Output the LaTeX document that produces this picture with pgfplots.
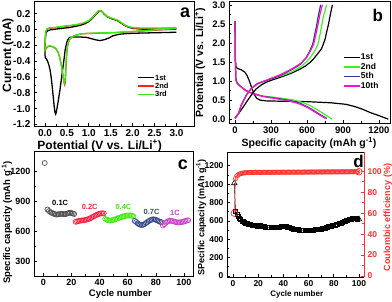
\documentclass[border=0pt]{standalone}
\usepackage{pgfplots}
\pgfplotsset{compat=1.18}
\usepackage{fontspec}
\setmainfont{Liberation Sans}
\definecolor{ared}{HTML}{FF2020}
\definecolor{agreen}{HTML}{33EE11}
\definecolor{bgreen}{HTML}{44EE22}
\definecolor{bblue}{HTML}{2A3A9A}
\definecolor{bpink}{HTML}{FF10C8}
\definecolor{cgray}{HTML}{505050}
\definecolor{cred}{HTML}{FF2244}
\definecolor{cgreen}{HTML}{44EE11}
\definecolor{cblue}{HTML}{3A4A8A}
\definecolor{cviolet}{HTML}{CC44CC}
\definecolor{dred}{HTML}{FF3030}
\newcommand{\fs}[1]{\bfseries\fontsize{#1}{#1}\selectfont}
\pgfplotsset{
  /pgf/number format/assume math mode=true,
  /pgf/number format/1000 sep={},
  base/.style={scale only axis,
    axis line style={line width=0.8pt},
    tick style={line width=0.6pt, black},
    major tick length=3pt, minor tick length=1.8pt,
    xtick pos=bottom, ytick pos=left,
    legend cell align=left},
}
\begin{document}
\begin{tikzpicture}
\useasboundingbox (0pt,0pt) rectangle (392pt,301pt);

% ---------------- panel a ----------------
\begin{axis}[base, at={(34pt,175pt)}, anchor=south west, width=160pt, height=125pt,
  xmin=-0.25, xmax=3.4, ymin=-1.22, ymax=0.36,
  xtick={0,0.5,1,1.5,2,2.5,3}, ytick={-1.2,-1,-0.8,-0.6,-0.4,-0.2,0,0.2},
  minor x tick num=1, minor y tick num=1,
  xticklabel style={/pgf/number format/.cd, fixed, fixed zerofill, precision=1},
  yticklabel style={/pgf/number format/.cd, fixed, fixed zerofill, precision=1},
  tick label style={font=\fs{10}},
  label style={font=\fs{12}},
  xlabel={Potential (V vs. Li/Li\textsuperscript{+})},
  ylabel={Current (mA)},
  xlabel style={at={(axis description cs:0.41,-0.158)}, anchor=center},
  ylabel style={at={(axis description cs:-0.1625,0.568)}, anchor=center},
  legend style={at={(0.644,0.416)}, anchor=north west, draw=none, fill=none,
    font=\fs{7.5}, row sep=1pt, inner sep=0pt,
    nodes={inner sep=0.6pt, text height=5.2pt, text depth=0.8pt}},
  legend image code/.code={\draw[#1] (0pt,0pt) -- (16pt,0pt);},
]
\addplot[black, line width=1.3pt] coordinates {
(3.0,-0.035) (2.6,-0.04) (2.2,-0.045) (1.9,-0.05) (1.7,-0.06) (1.55,-0.08) (1.45,-0.11) (1.35,-0.13) (1.25,-0.14) (1.15,-0.13) (1.05,-0.115) (0.95,-0.10) (0.8,-0.095) (0.65,-0.095) (0.56,-0.10) (0.52,-0.13) (0.49,-0.18) (0.46,-0.26) (0.43,-0.40) (0.40,-0.52) (0.37,-0.65) (0.34,-0.77) (0.31,-0.88) (0.28,-0.98) (0.26,-1.04) (0.245,-1.07) (0.23,-1.05) (0.21,-0.97) (0.18,-0.80) (0.15,-0.64) (0.12,-0.52) (0.09,-0.45) (0.06,-0.40) (0.03,-0.37) (0.01,-0.36) (0.0,-0.32) (0.005,-0.15) (0.02,-0.05) (0.05,-0.02) (0.12,-0.005) (0.25,0.005) (0.4,0.015) (0.55,0.025) (0.7,0.04) (0.82,0.055) (0.92,0.075) (1.0,0.10) (1.08,0.14) (1.16,0.19) (1.22,0.225) (1.26,0.235) (1.3,0.225) (1.36,0.19) (1.42,0.16) (1.5,0.14) (1.58,0.125) (1.66,0.11) (1.74,0.08) (1.82,0.05) (1.9,0.03) (2.0,0.015) (2.2,0.005) (2.5,0.0) (2.8,0.0) (3.0,0.005)
};
\addlegendentry{1st}
\addplot[ared, line width=1.3pt] coordinates {
(3.0,0.01) (2.6,-0.005) (2.2,-0.02) (1.9,-0.03) (1.6,-0.04) (1.3,-0.045) (1.0,-0.05) (0.85,-0.055) (0.72,-0.07) (0.63,-0.09) (0.57,-0.12) (0.53,-0.17) (0.505,-0.25) (0.49,-0.36) (0.48,-0.48) (0.47,-0.60) (0.46,-0.68) (0.45,-0.70) (0.44,-0.685) (0.42,-0.62) (0.40,-0.54) (0.37,-0.44) (0.34,-0.36) (0.30,-0.29) (0.25,-0.245) (0.20,-0.225) (0.15,-0.215) (0.10,-0.21) (0.06,-0.22) (0.03,-0.24) (0.0,-0.27) (0.005,-0.12) (0.02,-0.03) (0.05,0.005) (0.1,0.015) (0.2,0.02) (0.4,0.035) (0.6,0.05) (0.78,0.065) (0.9,0.085) (1.0,0.11) (1.08,0.15) (1.16,0.20) (1.22,0.235) (1.26,0.24) (1.3,0.23) (1.36,0.195) (1.42,0.165) (1.5,0.145) (1.58,0.13) (1.66,0.115) (1.74,0.085) (1.82,0.055) (1.9,0.035) (2.0,0.02) (2.2,0.012) (2.5,0.012) (2.8,0.015) (3.0,0.02)
};
\addlegendentry{2nd}
\addplot[agreen, line width=1.3pt] coordinates {
(3.0,0.015) (2.6,0.0) (2.2,-0.018) (1.9,-0.028) (1.6,-0.038) (1.3,-0.043) (1.0,-0.048) (0.85,-0.053) (0.72,-0.068) (0.63,-0.088) (0.57,-0.115) (0.53,-0.16) (0.505,-0.24) (0.49,-0.34) (0.475,-0.46) (0.465,-0.58) (0.455,-0.66) (0.445,-0.68) (0.435,-0.665) (0.415,-0.60) (0.395,-0.52) (0.365,-0.43) (0.335,-0.35) (0.30,-0.285) (0.25,-0.24) (0.20,-0.22) (0.15,-0.21) (0.10,-0.205) (0.06,-0.215) (0.03,-0.235) (0.0,-0.26) (0.005,-0.11) (0.02,-0.02) (0.05,0.01) (0.1,0.02) (0.2,0.025) (0.4,0.04) (0.6,0.053) (0.78,0.068) (0.9,0.088) (1.0,0.112) (1.08,0.15) (1.16,0.20) (1.22,0.232) (1.26,0.237) (1.3,0.228) (1.36,0.195) (1.42,0.165) (1.5,0.148) (1.58,0.133) (1.66,0.118) (1.74,0.088) (1.82,0.058) (1.9,0.038) (2.0,0.025) (2.2,0.018) (2.5,0.018) (2.8,0.02) (3.0,0.025)
};
\addlegendentry{3rd}
\node[font=\fs{18}] at (rel axis cs:0.944,0.904) {a};
\end{axis}

% ---------------- panel b ----------------
\begin{axis}[base, at={(229pt,178pt)}, anchor=south west, width=161pt, height=122pt,
  xmin=-50, xmax=1292, ymin=-0.1, ymax=3.1,
  xtick={0,300,600,900,1200}, ytick={0,0.5,1,1.5,2,2.5,3},
  minor x tick num=1, minor y tick num=1,
  yticklabel style={/pgf/number format/.cd, fixed, fixed zerofill, precision=1},
  tick label style={font=\fs{9.5}},
  label style={font=\fs{10.5}},
  xlabel={Specific capacity (mAh g\textsuperscript{-1})},
  ylabel={Potential (V vs. Li/Li\textsuperscript{+})},
  xlabel style={at={(axis description cs:0.497,-0.164)}, anchor=center},
  ylabel style={at={(axis description cs:-0.18,0.496)}, anchor=center},
  legend style={at={(0.708,0.574)}, anchor=north west, draw=none, fill=none,
    font=\fs{8.5}, row sep=1pt, inner sep=0pt,
    nodes={inner sep=0.6pt, text height=6pt, text depth=1.3pt}},
  legend image code/.code={\draw[#1] (0pt,0pt) -- (16pt,0pt);},
]
\addplot[black, line width=1.2pt] coordinates {
(0,2.57) (3,1.6) (8,1.38) (20,1.33) (50,1.30) (80,1.24) (100,1.15) (120,1.0) (140,0.82) (160,0.65) (180,0.55) (210,0.50) (260,0.48) (400,0.47) (600,0.46) (800,0.43) (925,0.39) (1000,0.33) (1064,0.26) (1130,0.17) (1203,0.09) (1278,0.0)
};
\addlegendentry{1st}
\addplot[bgreen, line width=1.2pt] coordinates {
(0,2.57) (3,1.5) (8,1.05) (20,0.95) (50,0.86) (90,0.76) (150,0.67) (230,0.61) (340,0.57) (480,0.51) (560,0.44) (625,0.36) (675,0.27) (740,0.14) (810,0.0)
};
\addlegendentry{2nd}
\addplot[bblue, line width=1.2pt] coordinates {
(0,2.57) (3,1.5) (8,1.03) (20,0.93) (50,0.85) (90,0.75) (150,0.67) (230,0.60) (340,0.55) (460,0.49) (540,0.42) (600,0.33) (650,0.24) (705,0.13) (765,0.02)
};
\addlegendentry{5th}
\addplot[bpink, line width=1.2pt] coordinates {
(0,2.57) (3,1.5) (8,1.02) (20,0.93) (50,0.85) (90,0.75) (150,0.67) (230,0.60) (340,0.54) (450,0.48) (530,0.41) (590,0.33) (640,0.24) (695,0.13) (755,0.02)
};
\addlegendentry{10th}
\addplot[black, line width=1.2pt, forget plot] coordinates {
(0,0.03) (30,0.15) (64,0.30) (100,0.47) (140,0.65) (175,0.79) (220,0.90) (260,0.97) (320,1.04) (370,1.09) (430,1.16) (480,1.22) (540,1.31) (590,1.40) (630,1.50) (660,1.60) (690,1.72) (722,1.85) (750,2.09) (765,2.3) (780,2.5) (795,2.75) (812,3.0)
};
\addplot[bgreen, line width=1.2pt, forget plot] coordinates {
(0,0.02) (30,0.15) (50,0.35) (92,0.61) (133,0.79) (190,0.92) (286,1.05) (397,1.15) (480,1.25) (560,1.40) (600,1.52) (630,1.63) (665,1.80) (690,1.95) (712,2.27) (737,2.70) (764,3.0)
};
\addplot[bblue, line width=1.2pt, forget plot] coordinates {
(0,0.02) (30,0.15) (50,0.35) (92,0.62) (133,0.80) (190,0.94) (260,1.01) (380,1.15) (480,1.31) (550,1.45) (590,1.60) (625,1.80) (648,1.97) (662,2.18) (680,2.45) (697,2.75) (714,3.0)
};
\addplot[bpink, line width=1.2pt, forget plot] coordinates {
(0,0.02) (30,0.15) (50,0.35) (92,0.62) (133,0.80) (190,0.94) (260,1.02) (380,1.17) (480,1.33) (550,1.47) (597,1.62) (635,1.83) (656,1.97) (670,2.17) (690,2.45) (708,2.75) (728,3.0)
};
\node[font=\fs{17}] at (rel axis cs:0.925,0.885) {b};
\end{axis}

% ---------------- panel c ----------------
\begin{axis}[base, at={(34pt,25pt)}, anchor=south west, width=159pt, height=125pt,
  xmin=-6.6, xmax=106.4, ymin=150, ymax=1400,
  xtick={0,20,40,60,80,100}, ytick={300,600,900,1200},
  minor x tick num=1, minor y tick num=1,
  tick label style={font=\fs{9}},
  label style={font=\fs{9.5}},
  xlabel={Cycle number},
  ylabel={Specific capacity (mAh g\textsuperscript{-1})},
  xlabel style={at={(axis description cs:0.543,-0.146)}, anchor=center},
  ylabel style={at={(axis description cs:-0.17,0.428)}, anchor=center},
  every axis plot/.append style={only marks, mark=o, mark size=2.5pt, mark options={line width=0.7pt}},
]
\addplot[cgray] coordinates {
(1,1280) (3,815) (4,800) (5,790) (6,782) (7,775) (8,770) (9,765) (10,765) (11,768) (12,770) (13,772) (14,770) (15,768) (16,770) (17,775) (18,780) (19,782) (20,780) (21,775) (22,770)
};
\addplot[cred] coordinates {
(23,692) (24,695) (25,700) (26,702) (27,705) (28,706) (29,708) (30,712) (31,715) (32,718) (33,725) (34,732) (35,740) (36,748) (37,755) (38,762) (39,768) (40,773) (41,776) (42,778) (43,776)
};
\addplot[cgreen] coordinates {
(44,722) (45,715) (46,708) (47,705) (48,705) (49,708) (50,712) (51,716) (52,722) (53,727) (54,732) (55,737) (56,742) (57,746) (58,750) (59,753) (60,755) (61,756) (62,755) (63,752) (64,748)
};
\addplot[cblue] coordinates {
(65,700) (66,690) (67,678) (68,668) (69,662) (70,660) (71,663) (72,670) (73,680) (74,690) (75,700) (76,708) (77,714) (78,717) (79,716) (80,712) (81,706) (82,698) (83,692) (84,688)
};
\addplot[cviolet] coordinates {
(85,655) (86,668) (87,682) (88,693) (89,700) (90,703) (91,702) (92,698) (93,694) (94,690) (95,688) (96,686) (97,686) (98,688) (99,691) (100,695) (101,700) (102,705) (103,708)
};
\node[font=\fs{7.5}, text=black] at (axis cs:12,877) {0.1C};
\node[font=\fs{7.5}, text=cred] at (axis cs:33,837) {0.2C};
\node[font=\fs{7.5}, text=cgreen] at (axis cs:57,837) {0.4C};
\node[font=\fs{7.5}, text=cblue] at (axis cs:77,793) {0.7C};
\node[font=\fs{7.5}, text=cviolet] at (axis cs:93.6,777) {1C};
\node[font=\fs{18}] at (rel axis cs:0.937,0.888) {c};
\end{axis}

% ---------------- panel d ----------------
\begin{axis}[base, at={(227pt,24pt)}, anchor=south west, width=137pt, height=125pt,
  xmin=-4.8, xmax=104, ymin=-11, ymax=1349,
  axis y line*=left,
  xtick={0,20,40,60,80,100}, ytick={0,200,400,600,800,1000,1200},
  minor x tick num=1, minor y tick num=1,
  tick label style={font=\fs{8.5}},
  xlabel={Cycle number},
  ylabel={SPecific capacity (mAh g\textsuperscript{-1})},
  xlabel style={font=\fs{8}, at={(axis description cs:0.509,-0.138)}, anchor=center},
  ylabel style={font=\fs{9}, at={(axis description cs:-0.188,0.476)}, anchor=center},
]
\addplot[black, line width=0.5pt, mark=square, mark size=2pt, mark options={line width=0.6pt}, mark indices={2,...,99}] coordinates {
(1,1010) (2,700) (3,668) (4,645) (5,626) (6,612) (7,600) (8,590) (9,582) (10,576) (11,571) (12,566) (13,562) (14,558) (15,555) (16,552) (17,549) (18,547) (19,545) (20,545) (21,547) (22,548) (23,546) (24,542) (25,538) (26,535) (27,532) (28,530) (29,529) (30,528) (31,527) (32,527) (33,527) (34,528) (35,530) (36,532) (37,535) (38,538) (39,541) (40,543) (41,542) (42,539) (43,535) (44,530) (45,525) (46,520) (47,516) (48,512) (49,509) (50,507) (51,505) (52,503) (53,501) (54,500) (55,499) (56,498) (57,498) (58,498) (59,498) (60,499) (61,499) (62,500) (63,501) (64,502) (65,503) (66,505) (67,506) (68,508) (69,510) (70,513) (71,516) (72,520) (73,524) (74,528) (75,532) (76,536) (77,540) (78,544) (79,548) (80,552) (81,556) (82,560) (83,564) (84,568) (85,573) (86,578) (87,584) (88,590) (89,596) (90,602) (91,607) (92,612) (93,617) (94,622) (95,625) (96,628) (97,629) (98,627) (99,622) (100,617)
};
\addplot[black, only marks, mark=triangle, mark size=3.2pt, mark options={line width=0.6pt}] coordinates {(1,1010) (100,617)};
\node[font=\fs{17}] at (rel axis cs:0.961,0.922) {d};
\end{axis}
\begin{axis}[base, at={(227pt,24pt)}, anchor=south west, width=137pt, height=125pt,
  xmin=-4.8, xmax=104, ymin=-0.96, ymax=118.4,
  axis x line=none, axis y line*=right,
  y axis line style={dred}, ytick style={dred},
  ytick={0,20,40,60,80,100}, minor y tick num=1, ytick pos=right,
  yticklabel style={font=\fs{8.5}, text=dred},
  ylabel={Coulombic efficiency (\%)},
  ylabel style={font=\fs{9}, text=dred, at={(axis description cs:1.173,0.476)}, anchor=center, rotate=0},
]
\addplot[dred, line width=0.5pt, mark=o, mark size=2.2pt, mark options={line width=0.6pt}, mark indices={2,...,99}] coordinates {
(1,60) (2,93) (3,95.5) (4,96.6) (5,97.3) (6,97.8) (7,98.1) (8,98.3) (9,98.5) (10,98.6) (11,98.7) (12,98.8) (13,98.8) (14,98.9) (15,98.9) (16,99.0) (17,99.0) (18,99.1) (19,99.0) (20,99.0) (21,99.0) (22,98.9) (23,99.0) (24,99.0) (25,99.1) (26,99.0) (27,99.0) (28,99.1) (29,99.0) (30,99.0) (31,99.1) (32,99.1) (33,99.0) (34,99.1) (35,99.1) (36,99.1) (37,99.0) (38,99.1) (39,99.1) (40,99.2) (41,99.1) (42,99.1) (43,99.1) (44,99.2) (45,99.1) (46,99.1) (47,99.2) (48,99.2) (49,99.1) (50,99.2) (51,99.2) (52,99.2) (53,99.2) (54,99.1) (55,99.2) (56,99.2) (57,99.3) (58,99.2) (59,99.2) (60,99.3) (61,99.2) (62,99.3) (63,99.3) (64,99.2) (65,99.3) (66,99.3) (67,99.3) (68,99.3) (69,99.4) (70,99.3) (71,99.3) (72,99.4) (73,99.3) (74,99.4) (75,99.4) (76,99.4) (77,99.3) (78,99.4) (79,99.4) (80,99.4) (81,99.4) (82,99.5) (83,99.4) (84,99.4) (85,99.5) (86,99.4) (87,99.5) (88,99.5) (89,99.4) (90,99.5) (91,99.5) (92,99.5) (93,99.5) (94,99.6) (95,99.5) (96,99.5) (97,99.6) (98,99.5) (99,99.6) (100,99.6)
};
\addplot[dred, only marks, mark=o, mark size=3.3pt, mark options={line width=0.7pt}] coordinates {(1,60) (100,99.6)};
\end{axis}
\end{tikzpicture}
\end{document}
